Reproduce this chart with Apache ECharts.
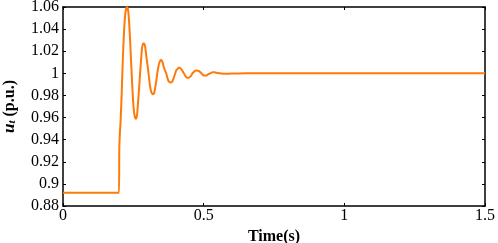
<!DOCTYPE html>
<html><head><meta charset="utf-8">
<script src="https://cdn.jsdelivr.net/npm/echarts@6/dist/echarts.min.js"></script>
<style>html,body{margin:0;padding:0;background:#fff}#c{width:498px;height:243px}</style>
</head><body><div id="c"></div>
<script>
const time = [0,0.199,0.2,0.202,0.205,0.209,0.213,0.217,0.221,0.225,0.228,0.232,0.236,0.24,0.244,0.248,0.252,0.256,0.259,0.263,0.266,0.27,0.274,0.278,0.281,0.285,0.288,0.292,0.296,0.3,0.304,0.308,0.312,0.316,0.32,0.324,0.327,0.331,0.335,0.339,0.343,0.347,0.35,0.354,0.358,0.362,0.367,0.371,0.375,0.379,0.383,0.387,0.391,0.395,0.399,0.403,0.407,0.411,0.415,0.419,0.423,0.427,0.43,0.434,0.437,0.441,0.444,0.448,0.452,0.456,0.46,0.464,0.468,0.472,0.476,0.48,0.484,0.488,0.492,0.496,0.5,0.504,0.507,0.511,0.515,0.519,0.523,0.527,0.531,0.535,0.539,0.545,0.555,0.57,0.6,0.65,0.7,0.8,1.0,1.2,1.5];
const voltage = [0.892,0.892,0.93,0.945,0.958,0.985,1.015,1.038,1.053,1.059,1.06,1.056,1.042,1.022,1.0,0.98,0.966,0.96,0.959,0.962,0.971,0.985,1.0,1.014,1.023,1.027,1.027,1.024,1.016,1.008,1.0,0.991,0.985,0.982,0.981,0.982,0.986,0.992,1.0,1.006,1.01,1.012,1.012,1.01,1.006,1.003,1.0,0.996,0.993,0.992,0.9916,0.992,0.994,0.997,1.0,1.003,1.004,1.005,1.005,1.004,1.003,1.001,1.0,0.998,0.997,0.996,0.996,0.996,0.997,0.998,1.0,1.001,1.002,1.0025,1.0025,1.0022,1.002,1.001,1.0,0.999,0.998,0.998,0.998,0.998,0.999,0.9995,1.0,1.0005,1.001,1.001,1.001,1.0005,1.0,0.9996,0.9998,1.0,1.0,1.0,1.0,1.0,1.0];
const xTicks = {min:0, max:1.5, interval:0.5};
const yTicks = {min:0.88, max:1.06, interval:0.02};
const xName = 'Time(s)';

const chart = echarts.init(document.getElementById('c'), null, {renderer:'canvas'});
const font = 'Liberation Serif';
const lineStyle = {color:'#000', width:1.5};
chart.setOption({
  animation:false,
  grid:{left:63, right:13, top:7, bottom:37, outerBoundsMode:'none', containLabel:false},
  xAxis:[{
    type:'value', min:xTicks.min, max:xTicks.max, interval:xTicks.interval,
    name:xName, nameLocation:'middle', nameGap:21,
    nameTextStyle:{fontFamily:font, fontSize:16, fontWeight:'bold', color:'#000'},
    axisLine:{show:true, onZero:false, lineStyle},
    axisTick:{inside:true, length:3, lineStyle:{color:'#000', width:1}},
    axisLabel:{fontFamily:font, fontSize:16, color:'#000', margin:2, formatter:v=>String(+v.toFixed(2))},
    splitLine:{show:false}
  },{
    type:'value', position:'top', min:xTicks.min, max:xTicks.max, interval:xTicks.interval,
    axisLine:{show:true, onZero:false, lineStyle},
    axisTick:{inside:true, length:3, lineStyle:{color:'#000', width:1}},
    axisLabel:{show:false}, splitLine:{show:false}
  }],
  yAxis:[{
    type:'value', min:yTicks.min, max:yTicks.max, interval:yTicks.interval,
    name:'{i|u}{s|t} {b|(p.u.)}', nameLocation:'middle', nameGap:45, nameRotate:90,
    nameTextStyle:{fontFamily:font, fontSize:16, fontWeight:'bold', color:'#000',
      rich:{
        i:{fontFamily:font, fontSize:17, fontWeight:'bold', fontStyle:'italic', color:'#000'},
        s:{fontFamily:font, fontSize:11, fontWeight:'bold', fontStyle:'italic', color:'#000', padding:[6,0,0,0]},
        b:{fontFamily:font, fontSize:16, fontWeight:'bold', color:'#000'}
      }},
    axisLine:{show:true, onZero:false, lineStyle},
    axisTick:{inside:true, length:3, lineStyle:{color:'#000', width:1}},
    axisLabel:{fontFamily:font, fontSize:16, color:'#000', margin:4, formatter:v=>String(+v.toFixed(2))},
    splitLine:{show:false}
  },{
    type:'value', position:'right', min:yTicks.min, max:yTicks.max, interval:yTicks.interval,
    axisLine:{show:true, onZero:false, lineStyle},
    axisTick:{inside:true, length:3, lineStyle:{color:'#000', width:1}},
    axisLabel:{show:false}, splitLine:{show:false}
  }],
  series:[{
    type:'line', xAxisIndex:0, yAxisIndex:0,
    data: time.map((t,i)=>[t, voltage[i]]),
    showSymbol:false, smooth:0.2, clip:true,
    lineStyle:{color:'#ff7a0a', width:2}
  }]
});
</script></body></html>
